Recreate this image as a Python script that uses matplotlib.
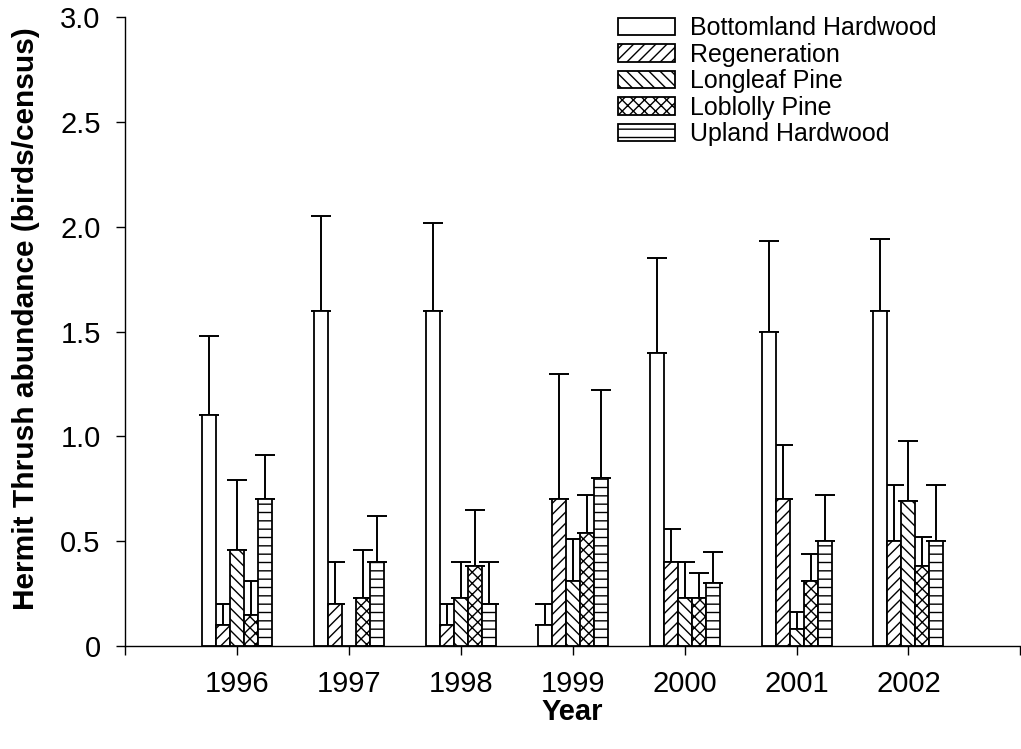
import numpy as np
import matplotlib
matplotlib.use("Agg")
import matplotlib.pyplot as plt

plt.rcParams['font.family'] = ['Liberation Sans', 'DejaVu Sans']
plt.rcParams['hatch.linewidth'] = 1.0

# data (mean and upper end of error bar)
years = [1996, 1997, 1998, 1999, 2000, 2001, 2002]
habitats = ["Bottomland Hardwood", "Regeneration", "Longleaf Pine",
            "Loblolly Pine", "Upland Hardwood"]
bottomland = [1.10, 1.60, 1.60, 0.10, 1.40, 1.50, 1.60]
regeneration = [0.10, 0.20, 0.10, 0.70, 0.40, 0.70, 0.50]
longleaf = [0.46, 0.00, 0.23, 0.31, 0.23, 0.08, 0.69]
loblolly = [0.15, 0.23, 0.38, 0.54, 0.23, 0.31, 0.38]
upland = [0.70, 0.40, 0.20, 0.80, 0.30, 0.50, 0.50]

bottomland_top = [1.48, 2.05, 2.02, 0.20, 1.85, 1.93, 1.94]
regeneration_top = [0.20, 0.40, 0.20, 1.30, 0.56, 0.96, 0.77]
longleaf_top = [0.79, 0.00, 0.40, 0.51, 0.40, 0.16, 0.98]
loblolly_top = [0.31, 0.46, 0.65, 0.72, 0.35, 0.44, 0.52]
upland_top = [0.91, 0.62, 0.40, 1.22, 0.45, 0.72, 0.77]

means = [bottomland, regeneration, longleaf, loblolly, upland]
tops = [bottomland_top, regeneration_top, longleaf_top, loblolly_top, upland_top]
hatches = ["", "///", "\\\\\\", "xxx", "--"]

fig = plt.figure(figsize=(10.21, 7.49), dpi=100)
ax = fig.add_axes([0.1224, 0.1375, 0.877, 0.8395])

x = np.array(years, dtype=float)
w = 0.125
for i in range(5):
    pos = x + (i - 2) * w
    m = np.array(means[i])
    t = np.array(tops[i])
    ax.bar(pos, m, width=w, color="white", edgecolor="black", linewidth=1.3,
           hatch=hatches[i], label=habitats[i], zorder=2)
    ok = m > 0
    ax.errorbar(pos[ok], m[ok], yerr=[np.zeros(ok.sum()), (t - m)[ok]],
                fmt="none", ecolor="black", elinewidth=1.4, capsize=7,
                capthick=1.4, zorder=1)

ax.set_xlim(1995, 2003)
ax.set_ylim(0, 3.0)
ax.set_xticks([1995] + years + [2003])
ax.set_xticklabels([""] + [str(y) for y in years] + [""])
ax.set_yticks([0, 0.5, 1.0, 1.5, 2.0, 2.5, 3.0])
ax.set_yticklabels(["0", "0.5", "1.0", "1.5", "2.0", "2.5", "3.0"])
ax.tick_params(axis="both", direction="out", length=6.5, width=1.0,
               labelsize=21, pad=11)
ax.spines["top"].set_visible(False)
ax.spines["right"].set_visible(False)
ax.spines["left"].set_linewidth(1.0)
ax.spines["bottom"].set_linewidth(1.0)

ax.set_ylabel("Hermit Thrush abundance (birds/census)", fontsize=21.5,
              fontweight="bold")
ax.yaxis.set_label_coords(-0.095, 0.5207)
ax.set_xlabel("Year", fontsize=21, fontweight="bold", labelpad=0)

ax.legend(loc="upper right", bbox_to_anchor=(0.932, 1.037), frameon=False,
          fontsize=18, handlelength=2.3, handleheight=0.7,
          labelspacing=0.1, handletextpad=0.6)

fig.savefig("out.png", dpi=100)
